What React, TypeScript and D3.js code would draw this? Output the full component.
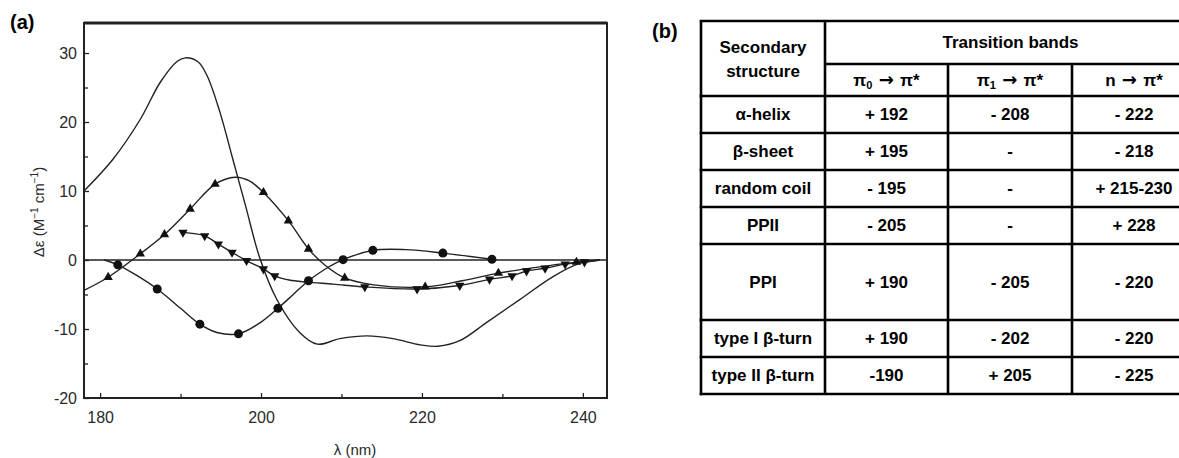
import React, { useEffect, useRef } from "react";
import * as d3 from "d3";

// (a) CD spectra  -  wavelength (nm), delta epsilon
const plainCurve: [number, number][] = [
  [178, 10.0], [181.6, 14.6], [185, 20.4], [187.5, 25.8], [189.6, 28.8], [190.6, 29.3],
  [192.2, 28.7], [193.3, 26.7], [194.9, 21.4], [196.5, 14.6], [198, 8.2], [199.9, 0.1],
  [202, -5.8], [204.8, -10.5], [207, -12.2], [209.8, -11.4], [213.2, -11.0], [216.4, -11.4],
  [219.8, -12.3], [222, -12.5], [224.7, -11.7], [228.1, -9.0], [232.2, -5.7],
  [236.3, -2.4], [239.6, -0.5], [242.1, 0],
];

const triUpCurve: [number, number][] = [
  [178, -4.4], [181, -2.5], [185, 0.9], [188, 3.7], [191.2, 7.4], [194.3, 11.0], [196.8, 12.0],
  [198.5, 11.5], [200.3, 9.8], [203.4, 5.7], [205.9, 1.6], [208, -0.8], [210.4, -2.6],
  [214, -3.6], [220.4, -3.9], [225, -3.0], [229.5, -1.9], [234, -1.1], [239.2, -0.3], [242.1, 0],
];
const triUpMarks: [number, number][] = [
  [181, -2.5], [185, 0.9], [188, 3.7], [191.2, 7.4], [194.3, 11.0], [200.3, 9.8], [203.4, 5.7],
  [205.9, 1.6], [210.4, -2.6], [220.4, -3.9], [229.5, -1.9], [239.2, -0.3],
];

const triDownCurve: [number, number][] = [
  [190.3, 4.0], [193, 3.5], [194.7, 2.3], [196.4, 1.1], [198.2, -0.1], [200.3, -1.3], [201.7, -2.3],
  [203.5, -2.9], [205.7, -3.2], [209, -3.5], [212.9, -3.9], [219.4, -4.2], [224.7, -3.7],
  [228.4, -2.8], [231.2, -2.3], [233, -1.6], [235.3, -1.2], [237.8, -0.6], [240.2, -0.3], [242.1, 0],
];
const triDownMarks: [number, number][] = [
  [190.3, 4.0], [193, 3.5], [194.7, 2.3], [196.4, 1.1], [198.2, -0.1], [200.3, -1.3], [201.7, -2.3],
  [212.9, -3.9], [219.4, -4.2], [224.7, -3.7], [228.4, -2.8], [231.2, -2.3], [233, -1.6],
  [235.3, -1.2], [237.8, -0.6], [240.2, -0.3],
];

const circleCurve: [number, number][] = [
  [180.5, 0], [182.2, -0.7], [184.5, -2.2], [187.1, -4.2], [190, -7.0], [192.4, -9.3], [194.5, -10.5],
  [197.2, -10.7], [200, -9.0], [202.1, -7.0], [204, -5.0], [205.9, -3.0], [208, -1.3],
  [210.2, 0.05], [213.9, 1.4], [218, 1.5], [222.6, 1.0], [228.7, 0.1],
];
const circleMarks: [number, number][] = [
  [182.2, -0.7], [187.1, -4.2], [192.4, -9.3], [197.2, -10.7], [202.1, -7.0], [205.9, -3.0],
  [210.2, 0.05], [213.9, 1.4], [222.6, 1.0], [228.7, 0.1],
];

const xTicks = [180, 200, 220, 240];
const xMinorTicks = [190, 210, 230];
const yTicks = [-20, -10, 0, 10, 20, 30];
const yMinorTicks = [-15, -5, 5, 15, 25];

// (b) table
const structures = ["α-helix", "β-sheet", "random coil", "PPII", "PPI", "type I β-turn", "type II β-turn"];
const pi0Bands = ["+ 192", "+ 195", "- 195", "- 205", "+ 190", "+ 190", "-190"];
const pi1Bands = ["- 208", "-", "-", "-", "- 205", "- 202", "+ 205"];
const nBands = ["- 222", "- 218", "+ 215-230", "+ 228", "- 220", "- 220", "- 225"];
const bandHeads = [["π", "0", "π*"], ["π", "1", "π*"], ["n", "", "π*"]];

const FONT = "'Liberation Sans', Arial, Helvetica, sans-serif";

function App() {
  const ref = useRef<SVGSVGElement>(null);

  useEffect(() => {
    const svg = d3.select(ref.current);
    svg.selectAll("*").remove();

    // ---------- (a) spectra ----------
    const left = 84, right = 607, top = 23, bottom = 398;
    const x = d3.scaleLinear().domain([178, 243]).range([left, right]);
    const y = d3.scaleLinear().domain([-20, 34.35]).range([bottom, top]);

    const plot = svg.append("g");

    // ticks point inward, plain hyphen for negatives
    plot.append("g")
      .attr("transform", `translate(${left},0)`)
      .call(d3.axisLeft(y).tickValues(yTicks).tickFormat(d => String(d)).tickSizeInner(-5).tickSizeOuter(0).tickPadding(7))
      .call(g => g.select(".domain").remove())
      .call(g => g.selectAll("text").attr("font-size", 16).attr("fill", "#2a2a2a").attr("font-family", FONT));
    plot.append("g")
      .attr("transform", `translate(${left},0)`)
      .call(d3.axisLeft(y).tickValues(yMinorTicks).tickSizeInner(-4).tickSizeOuter(0).tickFormat(() => ""))
      .call(g => g.select(".domain").remove());

    plot.append("g")
      .attr("transform", `translate(0,${bottom})`)
      .call(d3.axisBottom(x).tickValues(xTicks).tickFormat(d => String(d)).tickSizeInner(-5).tickSizeOuter(0).tickPadding(14))
      .call(g => g.select(".domain").remove())
      .call(g => g.selectAll("text").attr("font-size", 16).attr("fill", "#2a2a2a").attr("font-family", FONT));
    plot.append("g")
      .attr("transform", `translate(0,${bottom})`)
      .call(d3.axisBottom(x).tickValues(xMinorTicks).tickSizeInner(-4).tickSizeOuter(0).tickFormat(() => ""))
      .call(g => g.select(".domain").remove());

    plot.selectAll(".tick line").attr("stroke", "#222").attr("stroke-width", 1.3);

    // frame
    plot.append("rect")
      .attr("x", left).attr("y", top)
      .attr("width", right - left).attr("height", bottom - top)
      .attr("fill", "none").attr("stroke", "#222").attr("stroke-width", 2);
    plot.append("line")
      .attr("x1", left).attr("x2", right).attr("y1", top).attr("y2", top)
      .attr("stroke", "#222").attr("stroke-width", 3);

    // zero line
    plot.append("line")
      .attr("x1", left).attr("x2", right).attr("y1", y(0)).attr("y2", y(0))
      .attr("stroke", "#222").attr("stroke-width", 1.5);

    const line = d3.line<[number, number]>()
      .x(d => x(d[0]))
      .y(d => y(d[1]))
      .curve(d3.curveCatmullRom.alpha(0.5));

    [plainCurve, triUpCurve, triDownCurve, circleCurve].forEach(c => {
      plot.append("path")
        .attr("d", line(c))
        .attr("fill", "none")
        .attr("stroke", "#222")
        .attr("stroke-width", 1.4);
    });

    const tri = d3.symbol().type(d3.symbolTriangle).size(38);
    plot.selectAll(".up")
      .data(triUpMarks)
      .enter()
      .append("path")
      .attr("d", tri()!)
      .attr("transform", d => `translate(${x(d[0])},${y(d[1])})`)
      .attr("fill", "#111");
    plot.selectAll(".down")
      .data(triDownMarks)
      .enter()
      .append("path")
      .attr("d", tri()!)
      .attr("transform", d => `translate(${x(d[0])},${y(d[1])}) rotate(180)`)
      .attr("fill", "#111");
    plot.selectAll(".dot")
      .data(circleMarks)
      .enter()
      .append("circle")
      .attr("cx", d => x(d[0]))
      .attr("cy", d => y(d[1]))
      .attr("r", 4.5)
      .attr("fill", "#111");

    // axis titles
    plot.append("text")
      .attr("x", 355).attr("y", 455)
      .attr("text-anchor", "middle")
      .attr("font-family", FONT).attr("font-size", 15).attr("fill", "#2a2a2a")
      .text("λ (nm)");

    const yt = plot.append("text")
      .attr("transform", "translate(44,212) rotate(-90)")
      .attr("text-anchor", "middle")
      .attr("font-family", FONT).attr("font-size", 15).attr("fill", "#2a2a2a");
    yt.append("tspan").text("Δε (M");
    yt.append("tspan").attr("dy", -6).attr("font-size", 10).text("−1");
    yt.append("tspan").attr("dy", 6).text(" cm");
    yt.append("tspan").attr("dy", -6).attr("font-size", 10).text("−1");
    yt.append("tspan").attr("dy", 6).text(")");

    svg.append("text")
      .attr("x", 10).attr("y", 29)
      .attr("font-family", FONT).attr("font-size", 20).attr("font-weight", "bold")
      .text("(a)");

    // ---------- (b) table ----------
    const colX = [701, 825, 948, 1072, 1196];
    const headTop = 21, subLine = 64, headBottom = 96;
    const rowH = 37;
    const rowEdges = [headBottom];
    structures.forEach(s => {
      rowEdges.push(rowEdges[rowEdges.length - 1] + (s === "PPI" ? rowH * 2 + 2 : rowH));
    });
    const tBottom = rowEdges[rowEdges.length - 1];

    const tbl = svg.append("g")
      .attr("font-family", FONT)
      .attr("font-weight", "bold")
      .attr("font-size", 17)
      .attr("fill", "#000");

    const hLine = (y0: number, x1: number, x2: number) =>
      tbl.append("line").attr("x1", x1).attr("x2", x2).attr("y1", y0).attr("y2", y0)
        .attr("stroke", "#000").attr("stroke-width", 2.6);
    const vLine = (x0: number, y1: number, y2: number) =>
      tbl.append("line").attr("x1", x0).attr("x2", x0).attr("y1", y1).attr("y2", y2)
        .attr("stroke", "#000").attr("stroke-width", 2.6);

    hLine(headTop, colX[0] - 1.3, colX[4]);
    hLine(subLine, colX[1], colX[4]);
    rowEdges.forEach(r => hLine(r, colX[0] - 1.3, colX[4]));
    vLine(colX[0], headTop, tBottom + 1.3);
    vLine(colX[1], headTop, tBottom);
    vLine(colX[2], subLine, tBottom);
    vLine(colX[3], subLine, tBottom);
    vLine(colX[4], headTop, tBottom);

    const c0 = (colX[0] + colX[1]) / 2;
    tbl.append("text").attr("x", c0).attr("y", 47).attr("text-anchor", "middle")
      .attr("dominant-baseline", "central").text("Secondary");
    tbl.append("text").attr("x", c0).attr("y", 71).attr("text-anchor", "middle")
      .attr("dominant-baseline", "central").text("structure");
    tbl.append("text").attr("x", (colX[1] + colX[4]) / 2).attr("y", (headTop + subLine) / 2)
      .attr("text-anchor", "middle").attr("dominant-baseline", "central").text("Transition bands");

    // pi headers: symbol, subscript, heavy arrow, pi*
    bandHeads.forEach((h, i) => {
      const t = tbl.append("text")
        .attr("x", (colX[i + 1] + colX[i + 2]) / 2)
        .attr("y", (subLine + headBottom) / 2 + 6)
        .attr("text-anchor", "middle");
      t.append("tspan").text(h[0]);
      if (h[1]) t.append("tspan").attr("dy", 3).attr("font-size", 11).text(h[1]);
      t.append("tspan").attr("dy", h[1] ? -3 : 0).attr("font-family", "'DejaVu Sans', sans-serif")
        .attr("font-size", 18).text(" → ");
      t.append("tspan").text(h[2]);
    });

    const cols = [structures, pi0Bands, pi1Bands, nBands];
    cols.forEach((vals, ci) => {
      tbl.selectAll(`.c${ci}`)
        .data(vals)
        .enter()
        .append("text")
        .attr("x", (colX[ci] + colX[ci + 1]) / 2)
        .attr("y", (d, i) => (rowEdges[i] + rowEdges[i + 1]) / 2)
        .attr("text-anchor", "middle")
        .attr("dominant-baseline", "central")
        .text(d => d);
    });

    svg.append("text")
      .attr("x", 652).attr("y", 38)
      .attr("font-family", FONT).attr("font-size", 20).attr("font-weight", "bold")
      .text("(b)");
  }, []);

  return (
    <svg
      ref={ref}
      width={1179}
      height={458}
      style={{ position: "absolute", left: 0, top: 0, background: "#fff" }}
    />
  );
}

export default App;
